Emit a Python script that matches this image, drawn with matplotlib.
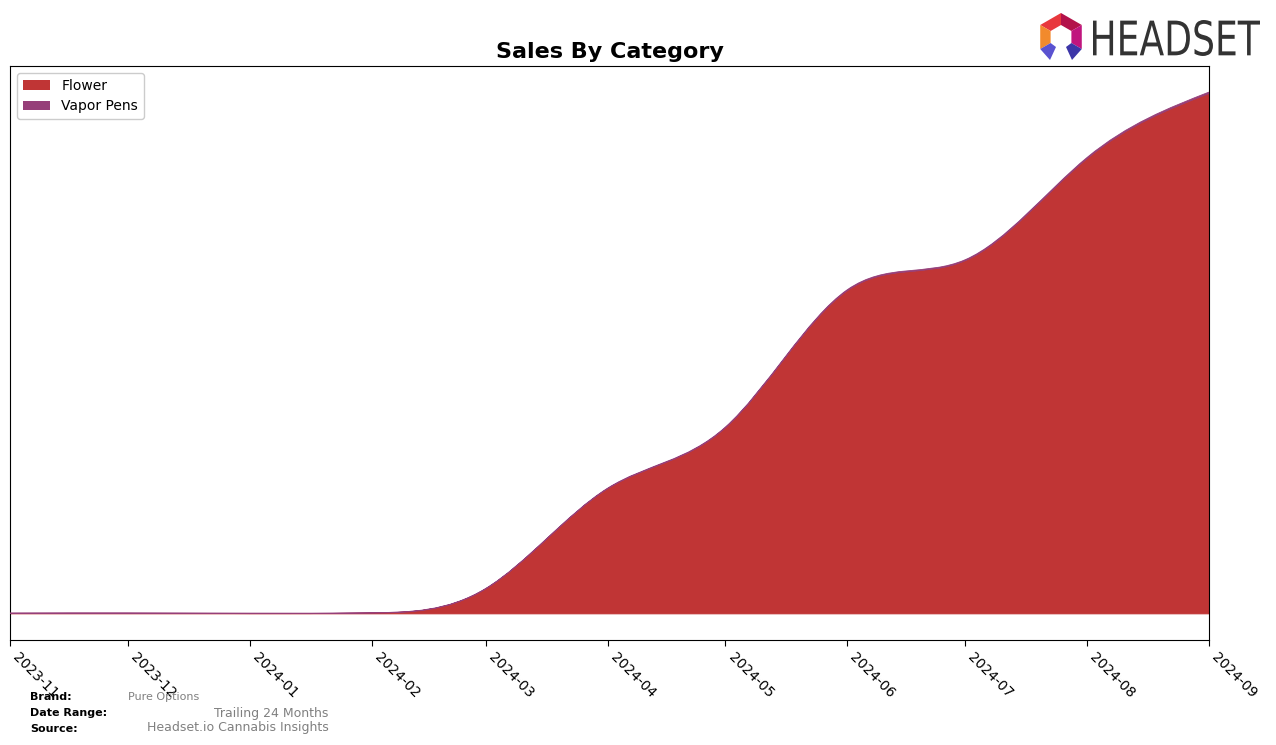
import matplotlib
matplotlib.use("Agg")
import matplotlib.pyplot as plt
import matplotlib.dates as mdates
from matplotlib.path import Path
from matplotlib.patches import PathPatch, Patch, Polygon
from matplotlib.textpath import TextPath
from matplotlib.font_manager import FontProperties
from matplotlib.transforms import Affine2D
import numpy as np
import pandas as pd

# ---------------- data ----------------
months = ["2023-11", "2023-12", "2024-01", "2024-02", "2024-03", "2024-04",
          "2024-05", "2024-06", "2024-07", "2024-08", "2024-09"]
flower = [0.4, 0.5, 0.3, 0.8, 25, 125, 186, 323, 353, 455, 520]
vapor_pens = [0.6, 0.6, 0.5, 0.4, 0.4, 0.6, 0.8, 1.0, 1.0, 1.2, 1.5]
categories = ["Flower", "Vapor Pens"]
colors = ["#c03535", "#963f79"]
tick_labels = months

brand = "Pure Options"
date_range = "Trailing 24 Months"
source = "Headset.io Cannabis Insights"

# ---------------- helpers ----------------
def spline_slopes(xs, ys):
    """Slopes of a natural cubic spline at the data points."""
    x = np.asarray(xs, float)
    y = np.asarray(ys, float)
    n = len(x)
    h = np.diff(x)
    A = np.zeros((n, n))
    b = np.zeros(n)
    A[0, 0] = 1.0
    A[-1, -1] = 1.0
    for i in range(1, n - 1):
        A[i, i - 1] = h[i - 1]
        A[i, i] = 2 * (h[i - 1] + h[i])
        A[i, i + 1] = h[i]
        b[i] = 6 * ((y[i + 1] - y[i]) / h[i] - (y[i] - y[i - 1]) / h[i - 1])
    M = np.linalg.solve(A, b)
    m = np.zeros(n)
    for i in range(n - 1):
        m[i] = (y[i + 1] - y[i]) / h[i] - h[i] * (2 * M[i] + M[i + 1]) / 6
    m[-1] = (y[-1] - y[-2]) / h[-1] + h[-1] * (M[-2] + 2 * M[-1]) / 6
    return m


def bezier_segments(xs, ys):
    m = spline_slopes(xs, ys)
    verts = []
    for i in range(len(xs) - 1):
        hh = xs[i + 1] - xs[i]
        c1 = (xs[i] + hh / 3, ys[i] + m[i] * hh / 3)
        c2 = (xs[i + 1] - hh / 3, ys[i + 1] - m[i + 1] * hh / 3)
        verts += [c1, c2, (xs[i + 1], ys[i + 1])]
    return verts


def reverse_segments(xs, ys):
    seg = bezier_segments(xs, ys)
    pts = [(xs[0], ys[0])] + seg
    return pts[::-1]


def band_path(xs, low, high):
    verts = [(xs[0], high[0])]
    codes = [Path.MOVETO]
    seg = bezier_segments(xs, high)
    verts += seg
    codes += [Path.CURVE4] * len(seg)
    rev = reverse_segments(xs, low)
    verts.append(rev[0])
    codes.append(Path.LINETO)
    verts += rev[1:]
    codes += [Path.CURVE4] * (len(rev) - 1)
    verts.append((xs[0], high[0]))
    codes.append(Path.CLOSEPOLY)
    return Path(verts, codes)


# ---------------- figure ----------------
W, H = 1276, 745
fig = plt.figure(figsize=(W / 100, H / 100), dpi=100)
ax = fig.add_axes([10 / W, 1 - 640 / H, (1209 - 10) / W, (640 - 66) / H])

dates = pd.to_datetime(months)
xs = list(mdates.date2num(dates))
fl = np.array(flower, dtype=float)
vp = np.array(vapor_pens, dtype=float)
zero = np.zeros_like(fl)
total = fl + vp

p1 = PathPatch(band_path(xs, list(zero), list(fl)), facecolor=colors[0],
               edgecolor=colors[0], lw=0.6, zorder=2)
p2 = PathPatch(band_path(xs, list(fl), list(total)), facecolor=colors[1],
               edgecolor=colors[1], lw=0.6, zorder=3)
ax.add_patch(p1)
ax.add_patch(p2)

ax.set_xlim(xs[0], xs[-1])
ymax = total.max()
ax.set_ylim(-0.05 * ymax, 1.05 * ymax)

ax.set_xticks(xs)
ax.set_xticklabels(tick_labels, rotation=-45, ha="left", fontsize=10)
ax.tick_params(axis="x", length=4, pad=3)
ax.set_yticks([])
ax.set_title("Sales By Category", fontsize=16, fontweight="bold", pad=6)

handles = [Patch(facecolor=c, label=l) for c, l in zip(colors, categories)]
ax.legend(handles=handles, loc="upper left", fontsize=10, framealpha=1,
          borderaxespad=0.5)

# ---------------- overlay (pixel coordinates) ----------------
ov = fig.add_axes([0, 0, 1, 1], zorder=10)
ov.set_xlim(0, W)
ov.set_ylim(H, 0)
ov.axis("off")
ov.patch.set_alpha(0)

# footer
ov.text(30, 697, "Brand:", fontsize=8, fontweight="bold", va="center", ha="left")
ov.text(128, 697, brand, fontsize=8, color="#808080", va="center", ha="left")
ov.text(30, 713, "Date Range:", fontsize=8, fontweight="bold", va="center", ha="left")
ov.text(328, 713, date_range, fontsize=9, color="#808080", va="center", ha="right")
ov.text(30, 729, "Source:", fontsize=8, fontweight="bold", va="center", ha="left")
ov.text(329, 728, source, fontsize=9, color="#808080", va="center", ha="right")

# logo icon
cx, cy = 1061, 37
def hexpt(r, ang):
    a = np.deg2rad(ang)
    return (cx + r * np.cos(a), cy - r * np.sin(a))
ro, ri = 24, 12
seg_cols = {(150, 90): "#e8383d", (90, 30): "#b3124a", (30, -30): "#c0157e",
            (-150, 150): "#f28a2c"}
for (a0, a1), c in seg_cols.items():
    poly = [hexpt(ro, a0), hexpt(ro, a1), hexpt(ri, a1), hexpt(ri, a0)]
    ov.add_patch(Polygon(poly, closed=True, facecolor=c, edgecolor="none"))
lo, li = hexpt(ro, -150), hexpt(ri, -150)
ov.add_patch(Polygon([lo, li, (1056, 47), (1050, 60)], closed=True,
                     facecolor="#5a52d0", edgecolor="none"))
ro_, ri_ = hexpt(ro, -30), hexpt(ri, -30)
ov.add_patch(Polygon([ro_, ri_, (1066, 47), (1072, 60)], closed=True,
                     facecolor="#3c36a8", edgecolor="none"))

# logo text
fp = FontProperties(family="DejaVu Sans")
tp = TextPath((0, 0), "HEADSET", size=10, prop=fp)
ext = tp.get_extents()
x0, y0, x1, y1 = 1093, 20, 1260, 56
sx = (x1 - x0) / ext.width
sy = (y1 - y0) / ext.height
tr = Affine2D().translate(-ext.x0, -ext.y0).scale(sx, -sy).translate(x0, y1)
ov.add_patch(PathPatch(tr.transform_path(tp), facecolor="#333333",
                       edgecolor="none"))

fig.savefig("out.png", dpi=100)
